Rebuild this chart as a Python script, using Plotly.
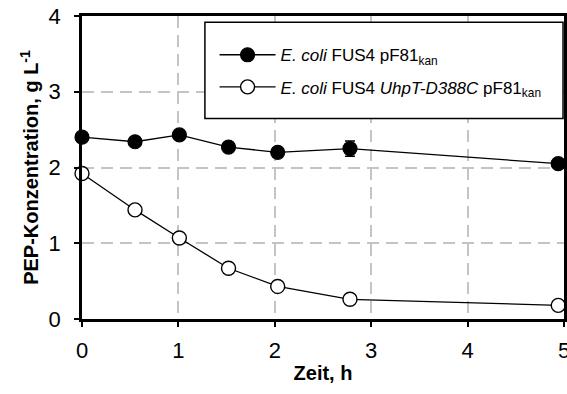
import plotly.graph_objects as go

# Sampling times (h) and PEP concentrations (g/L)
time_h = [0.0, 0.55, 1.01, 1.52, 2.03, 2.78, 4.94]
pep_fus4 = [2.40, 2.34, 2.43, 2.27, 2.20, 2.25, 2.05]
pep_fus4_err = [0, 0, 0, 0, 0, 0.1, 0]
pep_uhpt = [1.92, 1.44, 1.07, 0.67, 0.43, 0.26, 0.18]

x_ticks = [0, 1, 2, 3, 4, 5]
y_ticks = [0, 1, 2, 3, 4]

name_fus4 = "<i>E. coli</i> FUS4 pF81<sub>kan</sub>"
name_uhpt = "<i>E. coli</i> FUS4 <i>UhpT-D388C</i> pF81<sub>kan</sub>"

tick_font = dict(family="Liberation Sans Narrow, Arial Narrow, Liberation Sans, Arial", size=22, color="black")
title_font = dict(family="Liberation Sans, Arial", size=20, color="black", weight="bold")

fig = go.Figure()
fig.add_trace(go.Scatter(
    x=time_h, y=pep_fus4, name=name_fus4, legendgroup="a",
    mode="lines+markers",
    line=dict(color="black", width=1.3),
    marker=dict(symbol="circle", size=14, color="black", line=dict(color="black", width=1.2)),
    error_y=dict(type="data", array=pep_fus4_err, color="black", thickness=1.5, width=5),
    cliponaxis=False,
))
fig.add_trace(go.Scatter(
    x=time_h, y=pep_uhpt, name=name_uhpt, legendgroup="b",
    mode="lines+markers",
    line=dict(color="black", width=1.3),
    marker=dict(symbol="circle", size=14, color="white", line=dict(color="black", width=1.4)),
    cliponaxis=False,
))

axis_common = dict(
    showline=True, linecolor="black", linewidth=2.5, mirror=True,
    ticks="outside", ticklen=5, tickwidth=1.5, tickcolor="black",
    showgrid=True, gridcolor="#c4c4c4", gridwidth=1.5, griddash="12px,7px",
    zeroline=False, automargin=False, tickfont=tick_font,
    ticklabeloverflow="allow",
)

fig.update_xaxes(
    range=[0, 5], tickvals=x_ticks, ticktext=[str(v) for v in x_ticks],
    title=dict(text="Zeit, h", font=title_font, standoff=4),
    ticklabelstandoff=5, **axis_common,
)
fig.update_yaxes(
    range=[0, 4], tickvals=y_ticks, ticktext=[str(v) for v in y_ticks],
    title=dict(text="PEP-Konzentration, g L<sup>-1</sup>", font=title_font, standoff=5),
    ticklabelstandoff=9, **axis_common,
)

# Legend frame
fig.add_shape(type="rect", xref="paper", yref="paper",
              x0=0.255, x1=0.998, y0=0.662, y1=0.979,
              fillcolor="white", line=dict(color="black", width=1.5), layer="above")

fig.update_layout(
    template="none",
    width=567, height=394,
    margin=dict(l=82, r=3, t=16, b=75),
    paper_bgcolor="white", plot_bgcolor="white",
    showlegend=True,
    legend=dict(x=0.275, y=0.93, xanchor="left", yanchor="top",
                bgcolor="rgba(0,0,0,0)", borderwidth=0,
                font=dict(family="Liberation Sans, Arial", size=17, color="black"),
                itemwidth=56,
                tracegroupgap=7, traceorder="grouped"),
)

fig.write_html("out.html")
